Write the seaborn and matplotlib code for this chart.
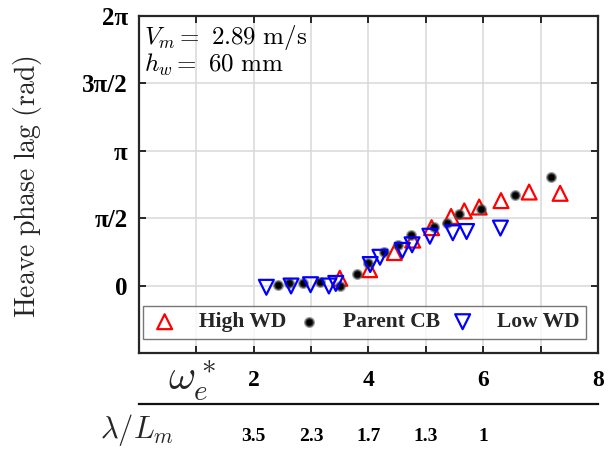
import numpy as np
import pandas as pd
import matplotlib
matplotlib.use("Agg")
import matplotlib.pyplot as plt
import seaborn as sns

# Encounter frequency (nondimensional) and heave phase lag (rad)
high_wd_w = [3.50, 4.02, 4.45, 4.77, 5.10, 5.44, 5.67, 5.93, 6.31, 6.80, 7.34]
high_wd_phase = [0.17, 0.37, 0.77, 1.06, 1.35, 1.61, 1.74, 1.83, 1.98, 2.18, 2.15]

parent_w = [2.42, 2.62, 2.86, 3.15, 3.51, 3.80, 3.99, 4.27, 4.52, 4.74,
            5.15, 5.36, 5.58, 5.96, 6.56, 7.19]
parent_phase = [0.02, 0.06, 0.06, 0.09, -0.02, 0.28, 0.52, 0.78, 0.94, 1.17,
                1.37, 1.46, 1.66, 1.78, 2.11, 2.53]

low_wd_w = [2.22, 2.65, 2.99, 3.31, 3.43, 4.03, 4.20, 4.59, 4.76, 5.07,
            5.47, 5.71, 6.30]
low_wd_phase = [-0.04, -0.01, 0.02, -0.01, 0.05, 0.49, 0.66, 0.82, 0.95, 1.15,
                1.23, 1.26, 1.34]

series_names = ["High WD", "Parent CB", "Low WD"]

# Axis ticks
x_ticks = list(range(0, 9))
x_tick_labels = ["", "", "2", "", "4", "", "6", "", "8"]
y_ticks = [-np.pi / 2, 0, np.pi / 2, np.pi, 3 * np.pi / 2, 2 * np.pi]
y_tick_labels = ["", "0", "π/2", "π", "3π/2", "2π"]
wl_ticks = [2, 3, 4, 5, 6]
wl_tick_labels = ["3.5", "2.3", "1.7", "1.3", "1"]

sns.set_theme(style="white")
plt.rcParams["mathtext.fontset"] = "cm"
plt.rcParams["font.family"] = ["Liberation Serif", "DejaVu Serif"]

df_high = pd.DataFrame({"w": high_wd_w, "phase": high_wd_phase})
df_parent = pd.DataFrame({"w": parent_w, "phase": parent_phase})
df_low = pd.DataFrame({"w": low_wd_w, "phase": low_wd_phase})

fig = plt.figure(figsize=(6.08, 4.5), dpi=100)
ax = fig.add_axes([0.2286, 0.2156, 0.7549, 0.7489])

sns.scatterplot(data=df_high, x="w", y="phase", ax=ax, marker="^", s=115,
                facecolor="none", edgecolor="#ff0000", linewidth=1.6,
                label=series_names[0], zorder=3)
sns.scatterplot(data=df_parent, x="w", y="phase", ax=ax, marker="o", s=38,
                color="black", edgecolor=(0.35, 0.35, 0.35, 0.55),
                linewidth=1.8, label=series_names[1], zorder=3)
sns.scatterplot(data=df_low, x="w", y="phase", ax=ax, marker="v", s=115,
                facecolor="none", edgecolor="#0000ff", linewidth=1.6,
                label=series_names[2], zorder=3)

ax.set_xlim(0, 8)
ax.set_ylim(-np.pi / 2, 2 * np.pi)
ax.set_xticks(x_ticks)
ax.set_xticklabels(x_tick_labels, fontsize=17, fontweight="bold")
ax.set_yticks(y_ticks)
ax.set_yticklabels(y_tick_labels, fontsize=18, fontweight="bold")
ax.set_xlabel("")
ax.set_ylabel("")
ax.grid(True, color="#d9d9d9", linewidth=1.1, zorder=0)
ax.set_axisbelow(True)
ax.tick_params(axis="both", direction="in", length=5, width=1.4,
               top=True, right=True, bottom=True, left=True, colors="#262626",
               labelcolor="black")
ax.tick_params(axis="x", pad=12)
ax.tick_params(axis="y", pad=8)
for sp in ax.spines.values():
    sp.set_visible(True)
    sp.set_color("#262626")
    sp.set_linewidth(1.6)

leg = ax.legend(loc="lower left", bbox_to_anchor=(0.009, 0.042, 0.965, 0.094),
                mode="expand", ncol=3, frameon=True, fancybox=False,
                prop={"family": "Liberation Serif", "weight": "bold", "size": 15.5},
                borderpad=0.3, handletextpad=0.9, columnspacing=0.9,
                handlelength=1.4, borderaxespad=0)
leg.get_frame().set_edgecolor("#555555")
leg.get_frame().set_linewidth(1.0)

ax.text(0.012, 0.978, r"$V_m{=}\ 2.89\ \mathrm{m/s}$", transform=ax.transAxes,
        fontsize=18, ha="left", va="top", color="black")
ax.text(0.012, 0.893, r"$h_w{=}\ 60\ \mathrm{mm}$", transform=ax.transAxes,
        fontsize=18, ha="left", va="top", color="black")

fig.text(28 / 608, 1 - 187 / 450, r"$\mathrm{Heave\ phase\ lag\ (rad)}$",
         rotation=90, ha="center", va="center", fontsize=20)

# Secondary scale: wavelength to model length ratio
ax2 = fig.add_axes([0.2286, 0.1022, 0.7549, 0.0001])
ax2.set_xlim(0, 8)
ax2.set_ylim(0, 1)
ax2.set_yticks([])
ax2.set_xticks(wl_ticks)
ax2.set_xticklabels(wl_tick_labels, fontsize=14, fontweight="bold")
ax2.tick_params(axis="x", direction="in", length=5, width=1.4, pad=17,
                colors="#111111", labelcolor="black")
for name in ["left", "right", "top"]:
    ax2.spines[name].set_visible(False)
ax2.spines["bottom"].set_color("#111111")
ax2.spines["bottom"].set_linewidth(1.6)
ax2.patch.set_alpha(0)

fig.text(192 / 608, 1 - 381 / 450, r"$\omega_e^*$", ha="center", va="center",
         fontsize=30)
fig.text(137 / 608, 1 - 430 / 450, r"$\lambda/L_m$", ha="center", va="center",
         fontsize=22)

fig.savefig("out.png", dpi=100)
